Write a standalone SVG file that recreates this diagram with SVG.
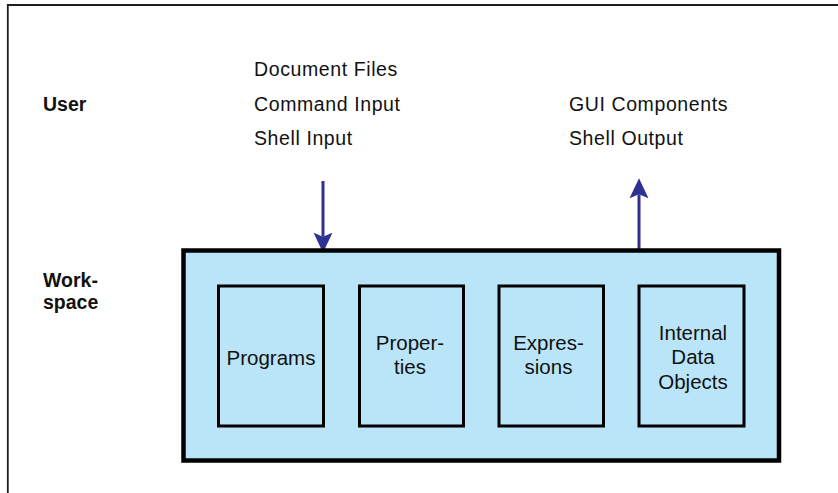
<svg xmlns="http://www.w3.org/2000/svg" width="838" height="493" viewBox="0 0 838 493">
  <style>
    .frame { fill: none; stroke: #1e1e1e; stroke-width: 1.8; }
    .label { font-family: "Liberation Sans", Arial, sans-serif; font-size: 19.5px; fill: #111; letter-spacing: 0.6px; }
    .side { font-family: "Liberation Sans", Arial, sans-serif; font-size: 19.5px; font-weight: bold; fill: #111; }
    .box-outer { fill: #bae5f8; stroke: #000; stroke-width: 4.5; }
    .box { fill: #bae5f8; stroke: #000; stroke-width: 3; }
    .boxtext { font-family: "Liberation Sans", Arial, sans-serif; font-size: 20.5px; fill: #111; text-anchor: middle; }
    .conn { fill: none; stroke: #2e3192; stroke-width: 3; }
  </style>
  <defs>
    <marker id="head" markerUnits="userSpaceOnUse" viewBox="0 -10 21 20" markerWidth="21" markerHeight="20" refX="4" refY="0" orient="auto">
      <path d="M20,0 L0,-9.5 L4,0 L0,9.5 Z" fill="#2e3192"/>
    </marker>
  </defs>
  <rect width="838" height="493" fill="#fff"/>
  <path class="frame" d="M838,5 H7.8 V493"/>

  <g id="labels">
    <text class="side" x="43" y="111">User</text>
    <text class="side" x="43" y="286.5">Work-</text>
    <text class="side" x="43" y="309">space</text>
  </g>

  <g id="inputs">
    <text class="label" x="254" y="76.3">Document Files</text>
    <text class="label" x="254" y="110.5">Command Input</text>
    <text class="label" x="254" y="144.5">Shell Input</text>
  </g>
  <g id="outputs">
    <text class="label" x="569" y="110.5">GUI Components</text>
    <text class="label" x="569" y="144.5">Shell Output</text>
  </g>

  <g id="connectors">
    <path class="conn" d="M323,181 V236.7" marker-end="url(#head)"/>
    <path class="conn" d="M639,250 V194.3" marker-end="url(#head)"/>
  </g>

  <g id="workspace">
    <rect class="box-outer" x="183.5" y="250.5" width="595.5" height="210"/>
  </g>
  <g id="programs">
    <rect class="box" x="218.5" y="286" width="105" height="140"/>
    <text class="boxtext" x="271" y="365">Programs</text>
  </g>
  <g id="properties">
    <rect class="box" x="359.5" y="286" width="104" height="140"/>
    <text class="boxtext" x="410" y="349.5">Proper-</text>
    <text class="boxtext" x="410" y="374">ties</text>
  </g>
  <g id="expressions">
    <rect class="box" x="499" y="286" width="104.5" height="140"/>
    <text class="boxtext" x="548.5" y="349.5">Expres-</text>
    <text class="boxtext" x="548.5" y="374">sions</text>
  </g>
  <g id="internal-data-objects">
    <rect class="box" x="639" y="286" width="105" height="140"/>
    <text class="boxtext" x="693" y="339.5">Internal</text>
    <text class="boxtext" x="693" y="364">Data</text>
    <text class="boxtext" x="693" y="388.5">Objects</text>
  </g>
</svg>
